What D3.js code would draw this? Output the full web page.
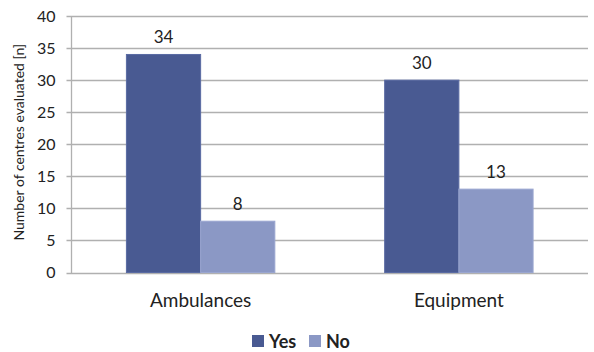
<!DOCTYPE html>
<html>
<head>
<meta charset="utf-8">
<script src="https://cdn.jsdelivr.net/npm/d3@7"></script>
<style>
  html, body { margin: 0; padding: 0; background: #fff; }
  svg { display: block; font-family: Lato, "Open Sans", sans-serif; }
</style>
</head>
<body>
<svg id="chart" width="594" height="352"></svg>
<script>
// Centres evaluated, by item and answer
const categories = ["Ambulances", "Equipment"];
const seriesNames = ["Yes", "No"];
const yesValues = [34, 30];
const noValues = [8, 13];
const yTicks = [0, 5, 10, 15, 20, 25, 30, 35, 40];
const colors = { Yes: "#495a92", No: "#8b98c5" };

const svg = d3.select("#chart");
const margin = { left: 71.5, right: 6, top: 16, bottom: 79.5 };
const W = 594, H = 352;

const x0 = d3.scaleBand().domain(categories)
  .range([margin.left, W - margin.right]).paddingInner(0).paddingOuter(0);
const x1 = d3.scaleBand().domain(seriesNames)
  .range([0, x0.bandwidth()]).paddingInner(0).paddingOuter(0.74);
const y = d3.scaleLinear().domain([0, 40]).range([H - margin.bottom, margin.top]);

// gridlines
svg.append("g")
  .selectAll("line").data(yTicks).join("line")
  .attr("x1", margin.left - 5).attr("x2", W - margin.right)
  .attr("y1", d => Math.round(y(d)) + 0.5).attr("y2", d => Math.round(y(d)) + 0.5)
  .attr("stroke", "#b0b0b0").attr("stroke-width", 1.3);

// y axis line
svg.append("line")
  .attr("x1", margin.left).attr("x2", margin.left)
  .attr("y1", y(40)).attr("y2", Math.round(y(0)) + 0.5)
  .attr("stroke", "#b0b0b0").attr("stroke-width", 1.3);

// y tick labels
svg.append("g")
  .selectAll("text").data(yTicks).join("text")
  .attr("x", margin.left - 16).attr("y", d => y(d))
  .attr("dy", "0.36em").attr("text-anchor", "end")
  .attr("font-size", 16).attr("fill", "#222")
  .text(d => d);

// y axis title
svg.append("text")
  .attr("transform", `translate(24, ${(y(40) + y(0)) / 2 - 2}) rotate(-90)`)
  .attr("text-anchor", "middle").attr("font-size", 14).attr("fill", "#222")
  .text("Number of centres evaluated [n]");

const data = categories.map((c, i) => ({
  category: c,
  values: [{ key: "Yes", value: yesValues[i] }, { key: "No", value: noValues[i] }]
}));

const groups = svg.append("g").selectAll("g").data(data).join("g")
  .attr("transform", d => `translate(${x0(d.category)},0)`);

groups.selectAll("rect").data(d => d.values).join("rect")
  .attr("x", d => x1(d.key)).attr("width", x1.bandwidth())
  .attr("y", d => y(d.value)).attr("height", d => y(0) - y(d.value))
  .attr("fill", d => colors[d.key])
  .attr("stroke", d => d.key === "Yes" ? "#5a6ba3" : "#9aa6d0").attr("stroke-width", 1);

groups.selectAll("text.val").data(d => d.values).join("text")
  .attr("class", "val")
  .attr("x", d => x1(d.key) + x1.bandwidth() / 2)
  .attr("y", d => y(d.value) - 11)
  .attr("text-anchor", "middle").attr("font-size", 17).attr("fill", "#222")
  .text(d => d.value);

// category labels
svg.append("g").selectAll("text").data(categories).join("text")
  .attr("x", d => x0(d) + x0.bandwidth() / 2).attr("y", 307)
  .attr("text-anchor", "middle").attr("font-size", 19).attr("fill", "#222")
  .text(d => d);

// legend
const legend = svg.append("g");
const legendItems = [{ key: "Yes", x: 252 }, { key: "No", x: 309 }];
legend.selectAll("rect").data(legendItems).join("rect")
  .attr("x", d => d.x).attr("y", 335).attr("width", 12).attr("height", 12)
  .attr("fill", d => colors[d.key]);
legend.selectAll("text").data(legendItems).join("text")
  .attr("x", d => d.x + 17).attr("y", 347.5)
  .attr("font-size", 18).attr("font-weight", "bold").attr("fill", "#222")
  .text(d => d.key);
</script>
</body>
</html>
